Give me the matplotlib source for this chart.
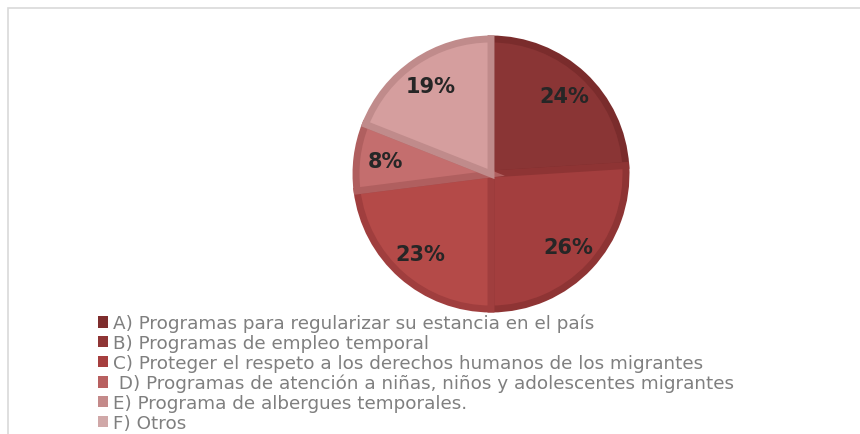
import matplotlib
matplotlib.use("Agg")
import numpy as np
import matplotlib.pyplot as plt
from matplotlib.patches import Patch, Rectangle

labels = ["A) Programas para regularizar su estancia en el país",
          "B) Programas de empleo temporal",
          "C) Proteger el respeto a los derechos humanos de los migrantes",
          " D) Programas de atención a niñas, niños y adolescentes migrantes",
          "E) Programa de albergues temporales.",
          "F) Otros"]
values = [24, 26, 23, 8, 0, 19]
fills = ["#8A3535", "#A33E3E", "#B44A48", "#C46E6E", "#C48A8A", "#D59E9E"]
edges = ["#7A2C2C", "#8E3434", "#A03E3E", "#B05F5F", "#B07A7A", "#C08B8B"]
swatches = ["#7E2D2D", "#8F3535", "#A63F3F", "#B86060", "#C48A8A", "#D0A8A8"]

fig = plt.figure(figsize=(8.6, 4.35), dpi=100)

# light frame around the chart area
fig.patches.append(Rectangle((8 / 860, -0.1), 1.2, (435 - 8.5) / 435 + 0.1,
                             transform=fig.transFigure, fill=False,
                             edgecolor="#D9D9D9", linewidth=1.2))

cx, cy, half = 491, 175, 142
ax = fig.add_axes([(cx - half) / 860, (435 - cy - half) / 435, 2 * half / 860, 2 * half / 435])

# zero slices are left out of the pie but kept in the legend
idx = [i for i, v in enumerate(values) if v > 0]
r = 135 / half
wedges, texts = ax.pie([values[i] for i in idx], startangle=90, counterclock=False,
                       radius=r, colors=[fills[i] for i in idx])
for w, i in zip(wedges, idx):
    w.set_edgecolor(edges[i])
    w.set_linewidth(5)
    w.set_joinstyle("miter")
ax.set_xlim(-1, 1)
ax.set_ylim(-1, 1)
ax.set_aspect("equal")
ax.axis("off")

ang = 90.0
for w, i in zip(wedges, idx):
    frac = values[i] / sum(values)
    mid = np.deg2rad(ang - frac * 360 / 2)
    ang -= frac * 360
    d = 0.79 * r
    ax.text(d * np.cos(mid), d * np.sin(mid), f"{values[i]}%", ha="center", va="center",
            fontsize=15, fontweight="bold", color="#262626", family="DejaVu Sans")

handles = [Patch(facecolor=c, edgecolor="none") for c in swatches]
leg = fig.legend(handles, labels, loc="upper left", bbox_to_anchor=(98 / 860, 1 - 315 / 435),
                 frameon=False, handlelength=0.55, handleheight=0.55,
                 handletextpad=0.25, labelspacing=0.1, borderpad=0, borderaxespad=0,
                 prop={"family": "DejaVu Sans", "size": 13.2})
for t in leg.get_texts():
    t.set_color("#7F7F7F")

fig.savefig("out.png", dpi=100)
